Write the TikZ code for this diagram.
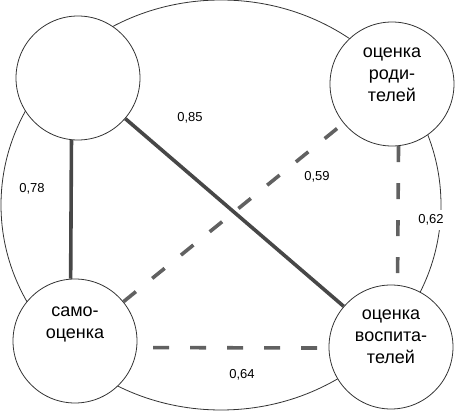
\documentclass[tikz,border=0pt]{standalone}
\usepackage{fontspec}
\setmainfont{Liberation Sans}

\begin{document}
\begin{tikzpicture}[
  x=1pt,y=-1pt,
  rating/.style={
    draw=black!80,
    circle,
    fill=white,
    line width=0.8pt,
    minimum size=124pt,
    inner sep=0pt,
    align=center,
    text height=0pt,
    text depth=0pt,
    font=\fontsize{18}{22}\selectfont
  },
  link/.style={line width=3.6pt,draw=black!72},
  weak/.style={link,draw=black!62,dash pattern=on 16pt off 21pt},
  coef/.style={font=\fontsize{13}{15}\selectfont,inner sep=1pt}
]
  \useasboundingbox (0,0) rectangle (459,411);
  \draw[line width=0.8pt,black!80] (221,205) ellipse [x radius=220pt,y radius=205pt];

  \node[rating] (upper) at (78,78) {};
  \node[rating,text height=36pt] (parents) at (392,84) {оценка\\роди-\\телей};
  \node[rating,text depth=4pt] (self) at (75,341) {само-\\оценка};
  \node[rating,text height=34pt] (teachers) at (391,347) {оценка\\воспита-\\телей};

  \path[link]
    (upper.-96) edge (self.94)
    (upper) edge (teachers);
  \path[weak]
    (self) edge (parents)
    (parents.-84) edge (teachers.84)
    (self.-6) edge[dash phase=21pt] (teachers.181);

  \node[coef] (c78) at (32,189) {0,78};
  \node[coef] (c85) at (190,118) {0,85};
  \node[coef] (c59) at (317,177) {0,59};
  \node[coef,fill=white,inner ysep=5pt] (c62) at (431,220) {0,62};
  \node[coef] (c64) at (242,375) {0,64};
\end{tikzpicture}
\end{document}
